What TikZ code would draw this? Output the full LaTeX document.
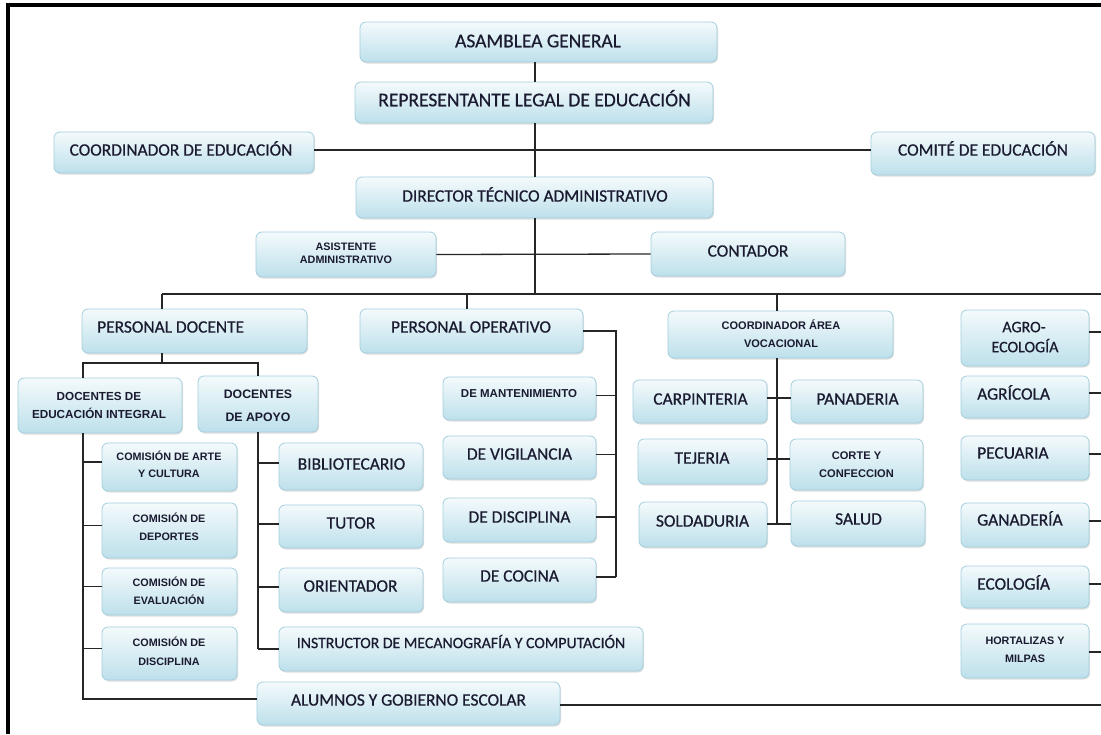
\documentclass[tikz,border=0pt]{standalone}
\usepackage{fontspec}
\setmainfont{Carlito}[FakeBold=0.6]
\newfontfamily\lsans{Liberation Sans}
\usetikzlibrary{fit,shadows}
\definecolor{boxtop}{HTML}{F4FAFC}
\definecolor{boxbot}{HTML}{BDE0EB}
\definecolor{boxline}{HTML}{A3CFDD}
\definecolor{ink}{HTML}{1A1A30}
\tikzset{
  obox/.style={rectangle, rounded corners=6pt, draw=boxline, line width=0.8pt,
    top color=boxtop, bottom color=boxbot, inner sep=0pt,
    drop shadow={opacity=0.25, shadow xshift=1pt, shadow yshift=-1.5pt}},
  big/.style={font=\fontsize{19.5}{22}\selectfont, text=ink, inner sep=0pt, anchor=base},
  reg/.style={font=\fontsize{17.4}{20}\selectfont, text=ink, inner sep=0pt, anchor=base},
  regl/.style={reg, anchor=base west},
  sm/.style={font=\lsans\bfseries\fontsize{#1}{#1}\selectfont, text=ink, inner sep=0pt, anchor=base},
  conn/.style={draw=black!85, line width=1.3pt},
}
\newcommand\bx[5]{\node[obox, fit={(#2,#3) (#4,#5)}] (#1) {};}
\begin{document}
\begin{tikzpicture}[x=1pt,y=-1pt]
\useasboundingbox (0,0) rectangle (1101,734);
% boxes
\bx{asam}{360}{22}{717}{62}
\bx{rep}{355}{82}{713}{123}
\bx{coord}{54}{132}{314}{173}
\bx{comite}{871}{132}{1095}{175}
\bx{dir}{356}{177}{713}{218}
\bx{asis}{256}{232}{436}{277}
\bx{cont}{651}{232}{845}{276}
\bx{pdoc}{82}{309}{307}{353}
\bx{pop}{360}{309}{583}{353}
\bx{avoc}{668}{311}{893}{358}
\bx{agro}{961}{310}{1089}{366}
\bx{dei}{18}{378}{182}{433}
\bx{dap}{198}{376}{318}{432}
\bx{c1}{102}{443}{237}{491}
\bx{c2}{102}{503}{237}{558}
\bx{c3}{102}{568}{237}{615}
\bx{c4}{102}{627}{237}{680}
\bx{bib}{279}{443}{423}{490}
\bx{tut}{279}{505}{423}{548}
\bx{ori}{279}{568}{423}{612}
\bx{ins}{279}{627}{643}{671}
\bx{alu}{257}{682}{560}{725}
\bx{mant}{443}{377}{596}{420}
\bx{vig}{443}{436}{596}{479}
\bx{dis}{443}{498}{596}{542}
\bx{coc}{443}{558}{596}{602}
\bx{carp}{633}{380}{767}{423}
\bx{tej}{638}{439}{767}{484}
\bx{sold}{639}{502}{767}{547}
\bx{pan}{791}{380}{923}{423}
\bx{cort}{790}{439}{923}{490}
\bx{sal}{791}{501}{925}{546}
\bx{agr}{961}{376}{1089}{418}
\bx{pec}{961}{436}{1089}{480}
\bx{gan}{961}{503}{1089}{547}
\bx{eco}{961}{566}{1089}{608}
\bx{hort}{961}{624}{1089}{678}
% texts
\node[big] (t-asam) at (538,47.3) {ASAMBLEA GENERAL};
\node[big] (t-rep) at (534.5,106.3) {REPRESENTANTE LEGAL DE EDUCACIÓN};
\node[reg] (t-coord) at (181,155.6) {COORDINADOR DE EDUCACIÓN};
\node[reg] (t-comite) at (983,155.6) {COMITÉ DE EDUCACIÓN};
\node[reg] (t-dir) at (535,201.6) {DIRECTOR TÉCNICO ADMINISTRATIVO};
\node[sm=10.8] (t-asis1) at (346,250.9) {ASISTENTE};
\node[sm=10.8] (t-asis2) at (346,263.9) {ADMINISTRATIVO};
\node[reg] (t-cont) at (748,256.6) {CONTADOR};
\node[regl] (t-pdoc) at (97,332.6) {PERSONAL DOCENTE};
\node[reg] (t-pop) at (471,332.6) {PERSONAL OPERATIVO};
\node[sm=11] (t-avoc1) at (781,329.9) {COORDINADOR ÁREA};
\node[sm=11] (t-avoc2) at (781,347.9) {VOCACIONAL};
\node[reg, font=\fontsize{16}{18}\selectfont] (t-agro1) at (1024,332.2) {AGRO-};
\node[reg, font=\fontsize{16}{18}\selectfont] (t-agro2) at (1025,352.2) {ECOLOGÍA};
\node[regl] (t-agr) at (977,399.6) {AGRÍCOLA};
\node[regl] (t-pec) at (977,458.6) {PECUARIA};
\node[regl] (t-gan) at (977,525.6) {GANADERÍA};
\node[regl] (t-eco) at (977,589.6) {ECOLOGÍA};
\node[sm=10.8] (t-hort1) at (1025,644.9) {HORTALIZAS Y};
\node[sm=10.8] (t-hort2) at (1025,662.9) {MILPAS};
\node[sm=11.7] (t-dei1) at (99,400.2) {DOCENTES DE};
\node[sm=11.7] (t-dei2) at (99,418.2) {EDUCACIÓN INTEGRAL};
\node[sm=12.3] (t-dap1) at (258,398.4) {DOCENTES};
\node[sm=12.3] (t-dap2) at (258,421.4) {DE APOYO};
\node[sm=10.8] (t-c1a) at (169,460.8) {COMISIÓN DE ARTE};
\node[sm=10.8] (t-c1b) at (169,477.8) {Y CULTURA};
\node[sm=10.8] (t-c2a) at (169,522.8) {COMISIÓN DE};
\node[sm=10.8] (t-c2b) at (169,540.8) {DEPORTES};
\node[sm=10.8] (t-c3a) at (169,586.8) {COMISIÓN DE};
\node[sm=10.8] (t-c3b) at (169,604.8) {EVALUACIÓN};
\node[sm=10.8] (t-c4a) at (169,646.8) {COMISIÓN DE};
\node[sm=10.8] (t-c4b) at (169,665.8) {DISCIPLINA};
\node[reg] (t-bib) at (351.5,469.6) {BIBLIOTECARIO};
\node[reg] (t-tut) at (351,528.6) {TUTOR};
\node[reg] (t-ori) at (350.5,591.6) {ORIENTADOR};
\node[reg, font=\fontsize{15.8}{18}\selectfont] (t-ins) at (461,648.1) {INSTRUCTOR DE MECANOGRAFÍA Y COMPUTACIÓN};
\node[reg] (t-alu) at (408.5,705.6) {ALUMNOS Y GOBIERNO ESCOLAR};
\node[sm=11.5] (t-mant) at (519,397.1) {DE MANTENIMIENTO};
\node[reg] (t-vig) at (519.5,459.6) {DE VIGILANCIA};
\node[reg] (t-dis) at (519.5,522.6) {DE DISCIPLINA};
\node[reg] (t-coc) at (519.5,581.6) {DE COCINA};
\node[reg] (t-carp) at (700.5,404.6) {CARPINTERIA};
\node[reg] (t-tej) at (702,463.6) {TEJERIA};
\node[reg] (t-sold) at (702.5,526.6) {SOLDADURIA};
\node[reg] (t-pan) at (857.5,404.6) {PANADERIA};
\node[sm=11.1] (t-cort1) at (856.5,459) {CORTE Y};
\node[sm=11.1] (t-cort2) at (856.5,477) {CONFECCION};
\node[reg] (t-sal) at (858.5,524.6) {SALUD};
% reference coordinates
\coordinate (trunk) at (535,0);
\coordinate (busL) at (162,294);
\coordinate (busR) at (1101,294);
\coordinate (dropOp) at (467,294);
\coordinate (dropAv) at (777,294);
\coordinate (colEI) at (83,363);
\coordinate (colAp) at (258,363);
\coordinate (colOp) at (616,0);
\coordinate (edge) at (1101,0);
% connectors
\draw[conn] (asam.south -| trunk) -- (rep.north -| trunk);
\draw[conn] (rep.south -| trunk) -- (dir.north -| trunk);
\coordinate (coordOut) at ([yshift=2.5pt]coord.east);
\draw[conn] (coordOut) -- (coordOut -| comite.west);
\draw[conn] (dir.south -| trunk) -- (trunk |- busL);
\draw[conn] (asis.east) -- (cont.west);
\draw[conn] (busL) -- (busR);
\draw[conn] (busL) -- (busL |- pdoc.north);
\draw[conn] (dropOp) -- (dropOp |- pop.north);
\draw[conn] (dropAv) -- (dropAv |- avoc.north);
\draw[conn] (busL |- pdoc.south) -- (busL |- colEI);
\draw[conn] (colEI |- dei.north) -- (colEI) -- (colAp) -- (colAp |- dap.north);
\coordinate (aluIn) at ([yshift=4.5pt]alu.west);
\draw[conn] (colEI |- dei.south) -- (colEI |- aluIn) -- (aluIn);
\foreach \b in {c1,c2,c3,c4} {
  \coordinate (\b-in) at ([yshift=5pt]\b.west);
  \draw[conn] (\b-in) -- (\b-in -| colEI);
}
\foreach \b/\s in {bib/3.5,tut/2.5,ori/3,ins/0} {
  \coordinate (\b-in) at ([yshift=\s pt]\b.west);
  \draw[conn] (\b-in) -- (\b-in -| colAp);
}
\draw[conn] (colAp |- dap.south) -- (colAp |- ins-in);
\foreach \b in {mant,vig,dis,coc} {
  \coordinate (\b-in) at ([yshift=3pt]\b.east);
  \draw[conn] (\b-in) -- (\b-in -| colOp);
}
\draw[conn] (pop.east) -- (pop.east -| colOp) -- (colOp |- coc-in);
\draw[conn] (dropAv |- avoc.south) -- (dropAv |- sal.west);
\foreach \a/\c/\s in {carp/pan/3.5,tej/cort/2.5,sold/sal/0.5} {
  \coordinate (\a-out) at ([yshift=\s pt]\a.east);
  \draw[conn] (\a-out) -- (\a-out -| \c.west);
}
\foreach \b/\s in {agro/6,agr/4,pec/4,gan/4,eco/3,hort/-1} {
  \coordinate (\b-out) at ([yshift=\s pt]\b.east);
  \draw[conn] (\b-out) -- (\b-out -| edge);
}
\coordinate (aluOut) at ([yshift=-1.5pt]alu.east);
\draw[conn] (aluOut) -- (aluOut -| edge);
% frame
\draw[line width=4pt] (8,734) -- (8,5) -- (1101,5);
\end{tikzpicture}
\end{document}
